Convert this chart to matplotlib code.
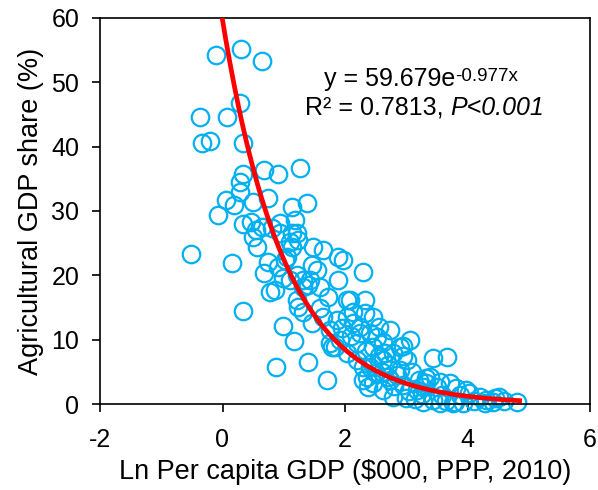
import numpy as np
import matplotlib
matplotlib.use("Agg")
import matplotlib.pyplot as plt

plt.rcParams['font.family'] = ['Liberation Sans', 'DejaVu Sans']
plt.rcParams['axes.unicode_minus'] = False

# Ln per capita GDP
x_vals = [-0.11, 0.31, 0.65, 0.29, -0.36, 0.08, -0.33, -0.20, 0.34, 0.34,
          0.29, 0.68, 0.91, 1.27, 0.29, 0.05, 0.18, 0.49, 0.75, -0.08,
          1.14, 1.38, 1.19, 0.33, 0.46, 0.54, 0.65, 0.81, 0.94, 0.50,
          0.57, 0.94, 1.14, 1.22, 1.11, 1.14, 1.24, 1.48, 1.64, 1.89,
          -0.52, 0.16, 0.75, 0.67, 0.91, 1.02, 1.06, 1.46, 1.54, 1.22,
          0.33, 0.78, 0.86, 0.99, 1.17, 0.88, 1.40, 1.71, 1.43, 1.59,
          1.32, 1.22, 1.32, 1.46, 1.64, 1.59, 1.76, 1.76, 1.84, 1.11,
          0.99, 1.32, 1.40, 1.89, 1.97, 2.29, 2.08, 1.24, 1.72, 1.87,
          2.03, 2.13, 2.24, 2.33, 2.46, 2.41, 2.52, 1.92, 1.79, 2.03,
          2.20, 2.36, 2.37, 2.46, 2.29, 2.44, 2.73, 3.06, 2.89, 2.62,
          2.46, 2.78, 3.01, 2.62, 2.41, 2.29, 2.73, 2.89, 2.62, 2.78,
          3.38, 3.27, 3.43, 2.13, 2.03, 2.33, 3.17, 3.66, 3.33, 3.50,
          3.71, 3.82, 4.03, 4.20, 4.31, 4.41, 4.52, 4.28, 4.81, 3.92,
          3.76, 3.43, 3.55, 3.87, 3.59, 3.27, 3.33, 3.55, 3.98,
          2.55, 2.70, 2.85, 2.95, 3.05, 2.50, 2.65, 2.95, 3.10, 3.20,
          2.20, 2.10, 2.35, 2.80, 3.00, 3.15, 3.65, 4.10, 3.80, 2.55,
          2.25, 1.95, 2.70, 3.25, 2.60, 2.95, 4.60, 4.45]

# Agricultural GDP share (%)
y_vals = [54.3, 55.1, 53.3, 46.8, 44.6, 44.6, 40.6, 40.9, 40.6, 35.8,
          34.5, 36.4, 35.8, 36.7, 33.0, 31.7, 31.0, 31.4, 32.0, 29.4,
          30.6, 31.3, 28.6, 28.0, 28.3, 27.1, 27.5, 27.4, 28.2, 26.0,
          24.4, 26.6, 26.6, 26.6, 25.2, 24.4, 25.5, 24.4, 24.0, 22.9,
          23.3, 21.9, 22.1, 20.4, 21.3, 22.4, 22.9, 21.6, 20.8, 20.1,
          14.5, 17.4, 17.7, 12.1, 9.8, 5.8, 6.5, 3.7, 19.3, 18.2,
          18.2, 16.2, 14.3, 12.6, 13.5, 14.9, 11.5, 9.5, 8.9, 19.3,
          19.6, 19.3, 18.5, 19.3, 22.4, 20.5, 16.2, 15.1, 16.6, 13.1,
          13.5, 14.3, 12.0, 14.2, 13.5, 11.0, 10.4, 10.0, 8.9, 7.9,
          9.5, 4.2, 2.6, 3.3, 5.8, 6.4, 11.5, 10.0, 8.9, 9.6,
          8.9, 7.9, 6.8, 6.8, 5.8, 3.7, 3.7, 5.3, 2.2, 1.1,
          4.2, 2.6, 7.2, 12.6, 16.2, 16.2, 2.2, 7.3, 3.3, 2.6,
          3.3, 2.5, 1.7, 1.1, 0.6, 0.3, 1.1, 0.1, 0.3, 0.2,
          0.1, 0.6, 0.1, 1.4, 1.4, 0.3, 4.0, 3.4, 2.2,
          7.5, 6.0, 4.5, 3.0, 2.0, 4.8, 8.0, 9.0, 5.0, 3.8,
          6.8, 10.5, 8.2, 2.8, 1.0, 0.8, 0.5, 0.4, 0.3, 12.0,
          11.0, 11.8, 4.2, 1.5, 5.0, 7.5, 0.5, 1.0]

# Exponential fit y = a * exp(b x)
fit_a = 59.679
fit_b = -0.977
fit_x_range = [-0.01, 4.85]

x_ticks = [-2, 0, 2, 4, 6]
y_ticks = [0, 10, 20, 30, 40, 50, 60]

FS = 18
FS_LAB = 19.5

fig = plt.figure(figsize=(5.98, 4.90), dpi=100)
ax = fig.add_axes([100 / 598, 0.1755, 490 / 598, 0.788])

ax.plot(x_vals, y_vals, linestyle='none', marker='o', markersize=12.6,
        markerfacecolor='none', markeredgecolor='#00B0F0', markeredgewidth=1.6,
        clip_on=False, zorder=2)

xf = np.linspace(fit_x_range[0], fit_x_range[1], 300)
ax.plot(xf, fit_a * np.exp(fit_b * xf), color='#FF0000', linewidth=3.4, zorder=3)

ax.set_xlim(-2, 6)
ax.set_ylim(0, 60)
ax.set_xticks(x_ticks)
ax.set_yticks(y_ticks)
ax.tick_params(direction='out', length=6, width=1.2, labelsize=FS, colors='black')
ax.tick_params(axis='y', pad=9)
ax.tick_params(axis='x', pad=11)
for s in ax.spines.values():
    s.set_linewidth(1.2)
    s.set_color('black')

ax.set_xlabel(r"Ln Per capita GDP (\$000, PPP, 2010)", fontsize=FS_LAB, labelpad=5)
ax.set_ylabel("Agricultural GDP share (%)", fontsize=FS_LAB, labelpad=5)

t1 = ax.text(3.80, 50.5, "y = 59.679e", fontsize=FS, ha='right', va='center')
ax.annotate("-0.977x", xy=(1.0, 0.95), xycoords=t1, fontsize=13.5,
            ha='left', va='top')
t2 = ax.text(3.72, 46.0, "R² = 0.7813, ", fontsize=FS, ha='right', va='center')
ax.annotate("P<0.001", xy=(1.0, 0.0), xycoords=t2, fontsize=FS,
            fontstyle='italic', ha='left', va='bottom')

fig.savefig("out.png", dpi=100)
